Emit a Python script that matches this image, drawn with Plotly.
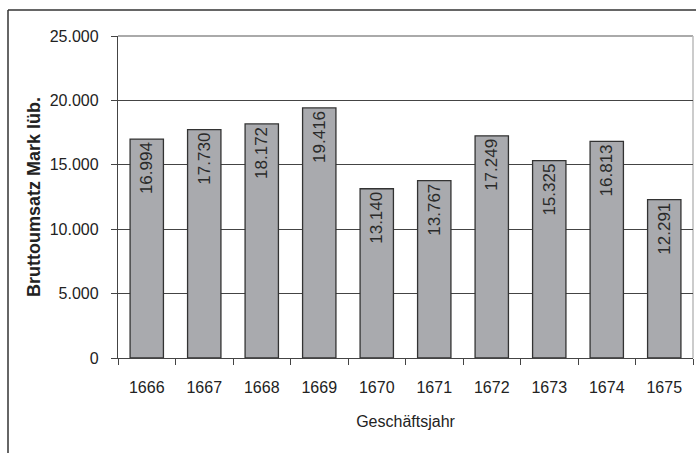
import plotly.graph_objects as go

years = ["1666", "1667", "1668", "1669", "1670", "1671", "1672", "1673", "1674", "1675"]
umsatz = [16994, 17730, 18172, 19416, 13140, 13767, 17249, 15325, 16813, 12291]
labels = ["16.994", "17.730", "18.172", "19.416", "13.140", "13.767", "17.249", "15.325", "16.813", "12.291"]
yticks = [0, 5000, 10000, 15000, 20000, 25000]
yticklabels = ["0", "5.000", "10.000", "15.000", "20.000", "25.000"]

W, H = 696, 453
L, R, T, B = 118, 3, 36, 95
pw, ph = W - L - R, H - T - B

def px(x):
    return (x - L) / pw

def py(y):
    return (H - B - y) / ph

FONT = "Liberation Sans, Arial, sans-serif"

fig = go.Figure()
fig.add_trace(go.Bar(
    x=years, y=umsatz, text=labels,
    textposition="inside", insidetextanchor="end", textangle=-90,
    textfont=dict(family=FONT, size=17, color="#2a2a2a"),
    marker=dict(color="#a9aaae", line=dict(color="#333", width=1.3)),
    width=0.58,
))

fig.update_layout(
    width=W, height=H,
    margin=dict(l=L, r=R, t=T, b=B),
    paper_bgcolor="white", plot_bgcolor="white",
    showlegend=False,
    font=dict(family=FONT, color="#222"),
    uniformtext=dict(minsize=8, mode="show"),
    xaxis=dict(
        type="category", showgrid=False, showline=True, linecolor="#444", linewidth=1.3,
        ticks="outside", tickson="boundaries", ticklen=6, tickcolor="#444", tickwidth=1.3,
        tickfont=dict(size=16, color="#222"), ticklabelstandoff=15,
        title=dict(text="Geschäftsjahr", font=dict(size=16, color="#222"), standoff=20),
    ),
    yaxis=dict(
        range=[0, 25000], tickvals=yticks, ticktext=yticklabels,
        showgrid=True, gridcolor="#444", gridwidth=1.3,
        showline=True, linecolor="#444", linewidth=1.3,
        ticks="outside", ticklen=6, tickcolor="#444", tickwidth=1.3,
        tickfont=dict(size=16, color="#222"), ticklabelstandoff=9,
        title=dict(text="<b>Bruttoumsatz Mark lüb.</b>", font=dict(size=18, color="#222"), standoff=4),
        zeroline=False,
    ),
    bargap=0.42,
)

# light plot-area border (top and right)
fig.add_shape(type="line", xref="paper", yref="paper", x0=0, x1=1, y0=1, y1=1,
              line=dict(color="#aaa", width=2), layer="below")
fig.add_shape(type="line", xref="paper", yref="paper", x0=1, x1=1, y0=0, y1=1,
              line=dict(color="#bbb", width=1.5), layer="below")

# outer frame (top and left visible, rest cropped)
fig.add_shape(type="line", xref="paper", yref="paper", x0=px(8), x1=px(700), y0=py(10), y1=py(10),
              line=dict(color="#333", width=1.5))
fig.add_shape(type="line", xref="paper", yref="paper", x0=px(8), x1=px(8), y0=py(10), y1=py(460),
              line=dict(color="#333", width=1.5))

fig.write_html("out.html", config={"displayModeBar": False},
               post_script="document.body.style.margin='0';document.body.style.overflow='hidden';")
